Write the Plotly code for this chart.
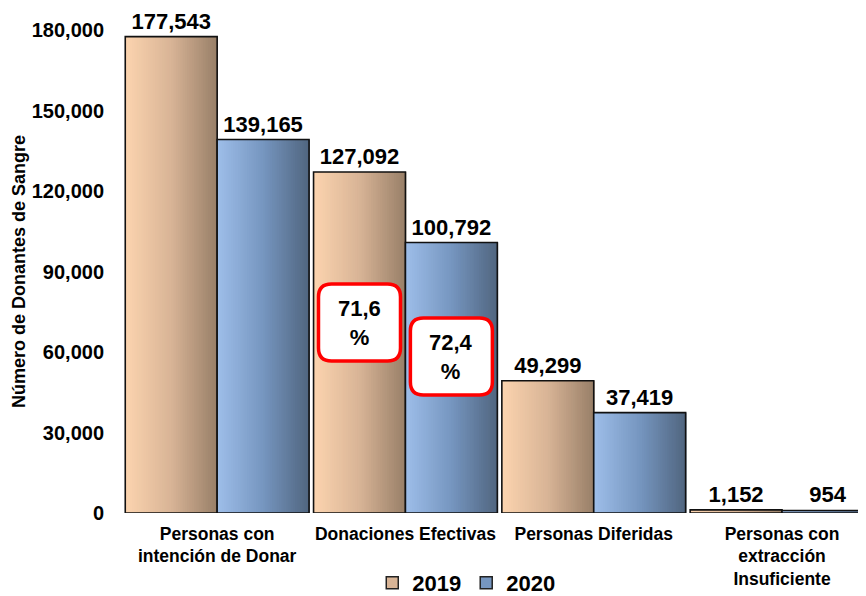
import plotly.graph_objects as go

# ---- data ----
categories = ["Personas con<br>intención de Donar", "Donaciones Efectivas",
              "Personas Diferidas", "Personas con<br>extracción<br>Insuficiente"]
values_2019 = [177543, 127092, 49299, 1152]
values_2020 = [139165, 100792, 37419, 954]
series_names = ["2019", "2020"]
pct_labels = ["71,6<br>%", "72,4<br>%"]
pct_category = 1          # index of "Donaciones Efectivas"
pct_y = [70990, 58320]    # vertical placement of the callouts (data units)
y_ticks = [0, 30000, 60000, 90000, 120000, 150000, 180000]

# ---- style ----
FONT = "Arial, Liberation Sans, sans-serif"
grad = {
    "2019": [(252, 212, 175), (216, 180, 150), (152, 127, 104)],
    "2020": [(158, 190, 233), (118, 150, 192), (80, 101, 127)],
}
BW = 0.488       # width of one bar (category units)
N = 40           # slices used for the horizontal gradient
offsets = {"2019": -BW, "2020": 0.0}


def lerp_color(stops, t):
    if t <= 0.5:
        a, b, u = stops[0], stops[1], t / 0.5
    else:
        a, b, u = stops[1], stops[2], (t - 0.5) / 0.5
    c = [round(a[i] + (b[i] - a[i]) * u) for i in range(3)]
    return f"rgb({c[0]},{c[1]},{c[2]})"


fig = go.Figure()
xs = list(range(len(categories)))

for name, vals in zip(series_names, [values_2019, values_2020]):
    step = BW / N
    for k in range(N):
        t = (k + 0.5) / N
        fig.add_trace(go.Bar(
            x=xs, y=vals, width=step * 1.35, offset=offsets[name] + k * step,
            marker=dict(color=lerp_color(grad[name], t), line=dict(width=0)),
            showlegend=False, hoverinfo="skip"))
    # outline + value labels
    fig.add_trace(go.Bar(
        x=xs, y=vals, width=BW, offset=offsets[name],
        marker=dict(color="rgba(0,0,0,0)", line=dict(color="#111111", width=1.6)),
        texttemplate="%{y:,}", textposition="outside", cliponaxis=False,
        textfont=dict(family=FONT, size=22, color="black", weight="bold"),
        showlegend=False, name=name))
    # legend entry
    fig.add_trace(go.Bar(
        x=[None], y=[None], name=name,
        marker=dict(color=lerp_color(grad[name], 0.5), line=dict(color="#222222", width=1.5)),
        showlegend=True))

# percentage callouts: rounded red boxes centred on the bars
W, H, R = 82, 77, 13
hw, hh = W / 2, H / 2
path = (f"M {-hw+R},{-hh} L {hw-R},{-hh} Q {hw},{-hh} {hw},{-hh+R} "
        f"L {hw},{hh-R} Q {hw},{hh} {hw-R},{hh} L {-hw+R},{hh} "
        f"Q {-hw},{hh} {-hw},{hh-R} L {-hw},{-hh+R} Q {-hw},{-hh} {-hw+R},{-hh} Z")
for i, name in enumerate(series_names):
    xc = pct_category + offsets[name] + BW / 2
    fig.add_shape(type="path", xref="x", yref="y", xsizemode="pixel", ysizemode="pixel",
                  xanchor=xc, yanchor=pct_y[i], path=path,
                  fillcolor="white", line=dict(color="#FF0000", width=3.5), layer="above")
    fig.add_annotation(x=xc, y=pct_y[i], xref="x", yref="y", text=pct_labels[i],
                       showarrow=False,
                       font=dict(family=FONT, size=22, color="black", weight="bold"))

# the page body adds an 8px margin, so the figure is 8px smaller than the window
fig.update_layout(
    width=858, height=588,
    margin=dict(l=115, r=0, t=22, b=83, autoexpand=False),
    paper_bgcolor="white", plot_bgcolor="white",
    barmode="overlay",
    font=dict(family=FONT, color="black"),
    legend=dict(orientation="h", x=0.462, xanchor="center", y=-0.145, yanchor="middle",
                font=dict(family=FONT, size=22, color="black", weight="bold"),
                itemwidth=30, traceorder="normal"),
)
fig.update_xaxes(
    tickmode="array", tickvals=xs, ticktext=categories,
    range=[-0.5, 3.446], showgrid=False, zeroline=False, showline=False,
    tickfont=dict(family=FONT, size=17.5, color="black", weight="bold"),
    ticklabelstandoff=8, automargin=False,
)
fig.update_yaxes(
    range=[0, 180000], tickvals=y_ticks, tickformat=",",
    showgrid=False, zeroline=False, showline=False,
    tickfont=dict(family=FONT, size=20, color="black", weight="bold"),
    ticklabelstandoff=18, automargin=False,
    title=dict(text="Número de Donantes de Sangre", standoff=1,
               font=dict(family=FONT, size=18, color="black", weight="bold")),
)

fig.write_html("out.html")
